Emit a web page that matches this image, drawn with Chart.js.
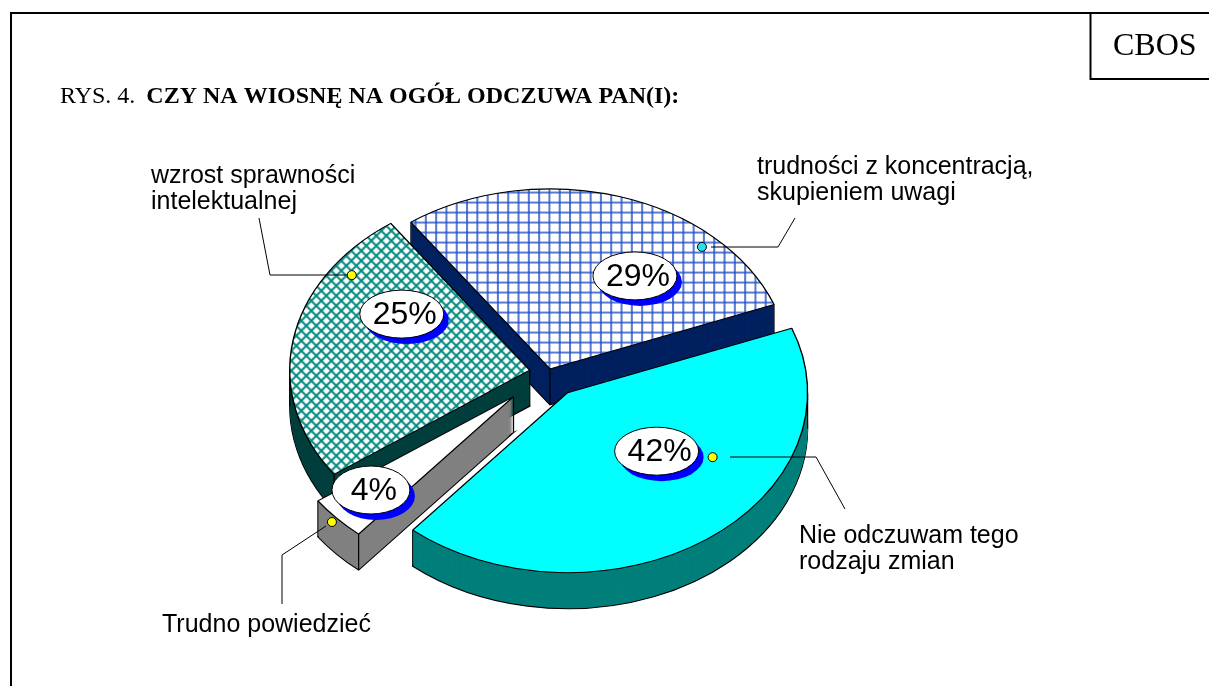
<!DOCTYPE html>
<html lang="pl"><head><meta charset="utf-8">
<style>html,body{margin:0;padding:0;background:#fff}canvas{display:block}</style>
<script src="https://cdn.jsdelivr.net/npm/chart.js@4"></script>
</head><body><canvas id="c" width="1209" height="686"></canvas>
<script>
// ---- data ----
const categories = ['Nie odczuwam tego rodzaju zmian','Trudno powiedzieć','wzrost sprawności intelektualnej','trudności z koncentracją, skupieniem uwagi'];
const values = [42, 4, 25, 29];
const labelLines = [['Nie odczuwam tego','rodzaju zmian'],['Trudno powiedzieć'],['wzrost sprawności','intelektualnej'],['trudności z koncentracją,','skupieniem uwagi']];
const explode = [33, 47.5, 19, 5];
const topColors = ['#00ffff','#ffffff','green','blue'];
const sideColors = ['#007f7b','#808080','#003f3d','#00205f'];
const dotColors = ['#ffff00','#ffff00','#ffff00','#22e6e6'];
const titleLead = 'RYS. 4. ';
const titleBold = 'CZY NA WIOSNĘ NA OGÓŁ ODCZUWA PAN(I):';
const badge = 'CBOS';

// ---- layout (annotations, not data) ----
const K = 0.75, DEPTH = 36;
const badgePos = [[89,58.5],[-142.6,93.4],[-128,-56],[85,-93]];   // relative to slice tip
const dotPos   = [[145,64.5],[-181.6,125.4],[-178,-95],[152,-122]];
const leaders  = [
  [[730,457],[816,457],[845,509]],
  [[326,526],[282,555],[282,604]],
  [[346,275],[270,275],[259,218]],
  [[711,247],[778,247],[795,218]]
];
const textPos = [[799,543],[162,632],[151,183],[757,174]];

function tile(size, draw){
  const t=document.createElement('canvas');t.width=t.height=size;
  const g=t.getContext('2d');g.fillStyle='#fff';g.fillRect(0,0,size,size);draw(g,size);
  return t;
}
const ctx0=document.getElementById('c').getContext('2d');
const gridP=ctx0.createPattern(tile(10,(g)=>{g.strokeStyle='#2150c6';g.lineWidth=1.5;
  g.beginPath();g.moveTo(2,0);g.lineTo(2,10);g.moveTo(0,3);g.lineTo(10,3);g.stroke();}),'repeat');
gridP.setTransform(new DOMMatrix([1.03,0,0,1/K,0,0]));
const hatchP=ctx0.createPattern(tile(10,(g)=>{g.strokeStyle='#008a80';g.lineWidth=2;
  g.beginPath();g.moveTo(-1,-1);g.lineTo(11,11);g.moveTo(-1,11);g.lineTo(11,-1);g.stroke();}),'repeat');
hatchP.setTransform(new DOMMatrix([1,0,0,1/K,0,0]));
const fills=topColors.map(c=>c==='green'?hatchP:c==='blue'?gridP:c);

const pie3d={
  id:'pie3d',
  beforeDatasetDraw(chart){
    const ctx=chart.ctx, arcs=chart.getDatasetMeta(0).data;
    const cx=arcs[0].x, cy=arcs[0].y;
    [3,2,1,0].forEach(i=>{
      const a=arcs[i], mid=(a.startAngle+a.endAngle)/2;
      const ex=explode[i]*Math.cos(mid), ey=explode[i]*Math.sin(mid)*K;
      const place=d=>{ctx.translate(cx+ex,cy+ey+d);ctx.scale(1,K);ctx.translate(-cx,-cy);};
      const sector=()=>{ctx.beginPath();ctx.moveTo(a.x,a.y);ctx.arc(a.x,a.y,a.outerRadius,a.startAngle,a.endAngle);ctx.closePath();};
      // lower rim
      ctx.save();place(DEPTH);sector();ctx.fillStyle=sideColors[i];ctx.fill();ctx.restore();
      ctx.save();place(DEPTH);sector();ctx.restore();ctx.strokeStyle='#000';ctx.lineWidth=1.2;ctx.stroke();
      // wall
      for(let d=DEPTH-1;d>=0;d--){ctx.save();place(d);sector();ctx.fillStyle=sideColors[i];ctx.fill();ctx.restore();}
      // vertical edges
      const pts=[[a.x,a.y]];
      const angs=[a.startAngle,a.endAngle];
      for(const t of [0,Math.PI,2*Math.PI,3*Math.PI]) if(t>a.startAngle&&t<a.endAngle) angs.push(t);
      angs.forEach(t=>pts.push([a.x+a.outerRadius*Math.cos(t),a.y+a.outerRadius*Math.sin(t)]));
      ctx.beginPath();
      pts.forEach(p=>{
        const sx=cx+ex+(p[0]-cx), sy=cy+ey+(p[1]-cy)*K;
        ctx.moveTo(sx,sy);ctx.lineTo(sx,sy+DEPTH);
      });
      ctx.strokeStyle='#000';ctx.lineWidth=1.2;ctx.stroke();
      // top face: the library's own arc element
      ctx.save();place(0);a.draw(ctx);ctx.restore();
    });
    return false;
  },
  afterDraw(chart){
    const ctx=chart.ctx, arcs=chart.getDatasetMeta(0).data;
    const cx=arcs[0].x, cy=arcs[0].y;
    ctx.save();
    // frame
    ctx.strokeStyle='#000';ctx.lineWidth=2;
    ctx.beginPath();ctx.moveTo(11,686);ctx.lineTo(11,13);ctx.lineTo(1209,13);
    ctx.moveTo(1090.5,13);ctx.lineTo(1090.5,79);ctx.lineTo(1209,79);ctx.stroke();
    // title
    ctx.fillStyle='#000';ctx.textBaseline='alphabetic';ctx.textAlign='left';
    ctx.font='32px "Liberation Serif"';ctx.fillText(badge,1113,55);
    ctx.font='24px "Liberation Serif"';ctx.fillText(titleLead,60,103);
    const w=ctx.measureText(titleLead).width;
    ctx.font='bold 24px "Liberation Serif"';ctx.fillText(titleBold,60+w+5,103);
    // leaders + category labels
    ctx.lineWidth=1;
    leaders.forEach(l=>{ctx.beginPath();l.forEach((p,j)=>j?ctx.lineTo(p[0],p[1]):ctx.moveTo(p[0],p[1]));ctx.stroke();});
    ctx.font='25px "Liberation Sans"';
    labelLines.forEach((ls,i)=>ls.forEach((s,j)=>ctx.fillText(s,textPos[i][0],textPos[i][1]+j*26)));
    // badges + dots
    arcs.forEach((a,i)=>{
      const mid=(a.startAngle+a.endAngle)/2;
      const tx=cx+explode[i]*Math.cos(mid), ty=cy+explode[i]*Math.sin(mid)*K;
      const bx=tx+badgePos[i][0], by=ty+badgePos[i][1];
      const rx=i===1?39:42, ry=24;
      ctx.fillStyle='#0000ff';ctx.beginPath();ctx.ellipse(bx+5,by+6,rx,ry,0,0,7);ctx.fill();
      ctx.fillStyle='#fff';ctx.strokeStyle='#000';ctx.lineWidth=1;ctx.beginPath();ctx.ellipse(bx,by,rx,ry,0,0,7);ctx.fill();ctx.stroke();
      ctx.fillStyle='#000';ctx.font='32px "Liberation Sans"';ctx.textAlign='center';ctx.textBaseline='middle';
      ctx.fillText(values[i]+'%',bx+3,by+1);
      ctx.fillStyle=dotColors[i];ctx.beginPath();ctx.arc(tx+dotPos[i][0],ty+dotPos[i][1],4.5,0,7);ctx.fill();ctx.stroke();
    });
    ctx.restore();
  }
};

new Chart(ctx0,{
  type:'pie',
  data:{labels:categories,datasets:[{data:values,backgroundColor:fills,borderColor:'#000',borderWidth:1.4}]},
  options:{
    responsive:false,animation:false,events:[],
    rotation:69,radius:240,
    layout:{padding:{top:59,right:112,left:0,bottom:0}},
    plugins:{legend:{display:false},tooltip:{enabled:false}}
  },
  plugins:[pie3d]
});
</script></body></html>
